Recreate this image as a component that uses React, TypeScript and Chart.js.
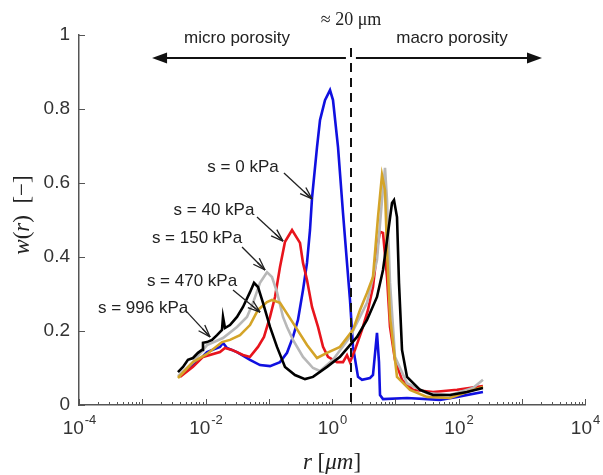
import React, { useEffect, useRef } from 'react';
import { Chart, registerables } from 'chart.js';
Chart.register(...registerables);

// ---- data: pore radius r [um] and w(r) [-] ----
const blueR = [0.00474, 0.00734, 0.01057, 0.01695, 0.01891, 0.02188, 0.03148, 0.05053, 0.07271, 0.1047, 0.1506, 0.1944, 0.2417, 0.2897, 0.348, 0.4026, 0.449, 0.483, 0.5795, 0.6464, 0.7751, 0.93, 1.037, 1.245, 1.492, 1.726, 1.925, 2.148, 2.577, 2.98, 3.988, 4.446, 5.144, 5.533, 5.741, 6.404, 15.35, 51.03, 94.73, 243.6];
const blueW = [0.089, 0.116, 0.143, 0.157, 0.168, 0.154, 0.143, 0.122, 0.108, 0.105, 0.116, 0.141, 0.184, 0.230, 0.311, 0.384, 0.473, 0.559, 0.697, 0.770, 0.824, 0.851, 0.824, 0.697, 0.519, 0.384, 0.284, 0.157, 0.076, 0.068, 0.073, 0.081, 0.195, 0.116, 0.027, 0.016, 0.019, 0.014, 0.022, 0.035];

const redR = [0.00395, 0.00634, 0.00913, 0.01695, 0.02033, 0.02624, 0.03917, 0.05053, 0.06761, 0.0841, 0.1047, 0.1256, 0.1506, 0.1807, 0.2335, 0.312, 0.348, 0.4026, 0.483, 0.601, 0.7215, 0.865, 1.2, 1.492, 1.726, 1.925, 2.31, 2.98, 3.708, 4.446, 5.335, 5.741, 6.404, 7.407, 8.262, 9.911, 12.79, 19.1, 39.53, 94.73, 243.6];
const redW = [0.076, 0.103, 0.130, 0.143, 0.154, 0.149, 0.135, 0.130, 0.157, 0.184, 0.238, 0.292, 0.373, 0.441, 0.473, 0.438, 0.384, 0.338, 0.265, 0.211, 0.157, 0.130, 0.116, 0.116, 0.135, 0.116, 0.149, 0.203, 0.257, 0.319, 0.438, 0.468, 0.465, 0.346, 0.211, 0.122, 0.068, 0.041, 0.035, 0.041, 0.051];

const grayR = [0.00367, 0.00634, 0.01057, 0.01891, 0.03148, 0.04529, 0.05638, 0.07271, 0.0938, 0.1125, 0.135, 0.168, 0.1944, 0.2417, 0.348, 0.5008, 0.6464, 1.037, 1.925, 3.575, 5.144, 6.175, 6.887, 7.407, 8.262, 9.911, 15.35, 31.77, 73.46, 169.3, 243.6];
const grayW = [0.078, 0.116, 0.162, 0.181, 0.211, 0.238, 0.276, 0.330, 0.359, 0.346, 0.305, 0.238, 0.211, 0.176, 0.130, 0.100, 0.092, 0.122, 0.184, 0.276, 0.392, 0.554, 0.641, 0.554, 0.330, 0.130, 0.059, 0.032, 0.027, 0.046, 0.068];

const goldR = [0.00367, 0.00634, 0.01057, 0.01824, 0.02438, 0.0351, 0.05053, 0.06761, 0.0938, 0.1125, 0.1506, 0.2417, 0.4026, 0.5795, 0.8337, 1.338, 2.148, 2.772, 3.575, 4.446, 5.335, 6.175, 6.887, 7.407, 8.262, 10.66, 17.12, 31.77, 73.46, 136.2, 243.6];
const goldW = [0.073, 0.116, 0.138, 0.170, 0.176, 0.189, 0.216, 0.257, 0.278, 0.284, 0.276, 0.222, 0.162, 0.127, 0.141, 0.157, 0.203, 0.257, 0.303, 0.346, 0.508, 0.622, 0.581, 0.419, 0.238, 0.076, 0.041, 0.022, 0.019, 0.035, 0.049];

const blackR = [0.00367, 0.00441, 0.00528, 0.00634, 0.0076, 0.00881, 0.00913, 0.01057, 0.01268, 0.0152, 0.01824, 0.01891, 0.02033, 0.02438, 0.03148, 0.03917, 0.05053, 0.05848, 0.06761, 0.0811, 0.1047, 0.135, 0.1807, 0.26, 0.3743, 0.5008, 0.8337, 1.338, 1.925, 2.485, 3.575, 5.144, 6.404, 7.682, 8.886, 9.557, 10.66, 11.46, 12.79, 15.35, 24.62, 39.53, 73.46, 136.2, 243.6];
const blackW = [0.089, 0.103, 0.122, 0.127, 0.141, 0.149, 0.168, 0.170, 0.176, 0.189, 0.203, 0.238, 0.208, 0.216, 0.238, 0.265, 0.305, 0.330, 0.319, 0.276, 0.211, 0.157, 0.103, 0.081, 0.070, 0.076, 0.103, 0.130, 0.162, 0.184, 0.230, 0.292, 0.365, 0.465, 0.546, 0.554, 0.508, 0.330, 0.149, 0.076, 0.041, 0.027, 0.027, 0.035, 0.046];

const seriesLabels = ['s = 0 kPa', 's = 40 kPa', 's = 150 kPa', 's = 470 kPa', 's = 996 kPa'];
const seriesColors = ['#1010e0', '#e8141c', '#b8b8b8', '#d4a428', '#000000'];

// annotation label centres and arrows (data coordinates)
const labelR = [0.0392, 0.0136, 0.00734, 0.00612, 0.00103];
const labelW = [0.643, 0.527, 0.451, 0.335, 0.262];
const arrowFromR = [0.174, 0.0652, 0.0378, 0.0272, 0.00474];
const arrowFromW = [0.627, 0.508, 0.427, 0.311, 0.257];
const arrowToR = [0.483, 0.168, 0.0873, 0.0728, 0.0118];
const arrowToW = [0.557, 0.443, 0.365, 0.251, 0.184];

// micro / macro boundary
const boundaryR = 2;
const boundaryTopW = 0.965;
const regionArrowW = 0.938;
const microArrowR = [1.66, 0.00143];
const macroArrowR = [2.39, 2090];
const regionTexts = ['micro porosity', 'macro porosity'];
const regionTextR = [0.0315, 78.9];
const regionTextW = 0.992;
const boundaryText = '\u2248 20 \u03bcm';
const boundaryTextW = 1.04;

const yTicks = [0, 0.2, 0.4, 0.6, 0.8, 1];
const yTickLabels = ['0', '0.2', '0.4', '0.6', '0.8', '1'];
const xTickExponents = ['-4', '-2', '0', '2', '4'];
const xTickValues = [1e-4, 1e-2, 1, 1e2, 1e4];

const SANS = '"Liberation Sans", Arial, sans-serif';
const SERIF = '"Liberation Serif", "Times New Roman", serif';

type Seg = { t: string; i: boolean };
function drawRich(ctx: CanvasRenderingContext2D, segs: Seg[], x: number, y: number, size: number) {
  let total = 0;
  const widths: number[] = [];
  for (const s of segs) {
    ctx.font = `${s.i ? 'italic ' : ''}${size}px ${SERIF}`;
    const w = ctx.measureText(s.t).width;
    widths.push(w);
    total += w;
  }
  let cx = x - total / 2;
  ctx.textAlign = 'left';
  segs.forEach((s, k) => {
    ctx.font = `${s.i ? 'italic ' : ''}${size}px ${SERIF}`;
    ctx.fillText(s.t, cx, y);
    cx += widths[k];
  });
}

function line(ctx: CanvasRenderingContext2D, x1: number, y1: number, x2: number, y2: number) {
  ctx.beginPath();
  ctx.moveTo(x1, y1);
  ctx.lineTo(x2, y2);
  ctx.stroke();
}

function filledHead(ctx: CanvasRenderingContext2D, tipX: number, y: number, dir: number) {
  ctx.beginPath();
  ctx.moveTo(tipX, y);
  ctx.lineTo(tipX - dir * 15, y - 5.5);
  ctx.lineTo(tipX - dir * 15, y + 5.5);
  ctx.closePath();
  ctx.fill();
}

const overlay = {
  id: 'overlay',
  afterDraw(chart: any) {
    const ctx: CanvasRenderingContext2D = chart.ctx;
    const xs = chart.scales.x;
    const ys = chart.scales.y;
    const { left, right, top, bottom } = chart.chartArea;
    const X = (r: number) => xs.getPixelForValue(r);
    const Y = (w: number) => ys.getPixelForValue(w);
    ctx.save();

    // inward tick marks
    ctx.strokeStyle = '#555';
    ctx.lineWidth = 1;
    for (const v of yTicks) {
      const y = Math.round(Y(v)) + 0.5;
      line(ctx, left, y, left + 6, y);
    }
    for (let e = -4; e <= 4; e++) {
      for (let m = 1; m <= 9; m++) {
        const v = m * Math.pow(10, e);
        if (v > 1e4 * 1.0001) break;
        const x = Math.round(X(v)) + 0.5;
        line(ctx, x, bottom, x, bottom - (m === 1 ? 6 : 3));
      }
    }

    // x tick labels with superscripts
    ctx.fillStyle = '#333';
    ctx.textBaseline = 'alphabetic';
    xTickValues.forEach((v, k) => {
      const x = X(v);
      ctx.font = `19px ${SANS}`;
      const wb = ctx.measureText('10').width;
      ctx.font = `13px ${SANS}`;
      const we = ctx.measureText(xTickExponents[k]).width;
      const sx = x - (wb + we) / 2;
      ctx.font = `19px ${SANS}`;
      ctx.textAlign = 'left';
      ctx.fillText('10', sx, bottom + 29);
      ctx.font = `13px ${SANS}`;
      ctx.fillText(xTickExponents[k], sx + wb + 1, bottom + 19);
    });

    // axis titles
    ctx.fillStyle = '#222';
    ctx.textBaseline = 'middle';
    drawRich(ctx, [
      { t: 'r', i: true }, { t: ' [', i: false }, { t: '\u03bcm', i: true }, { t: ']', i: false },
    ], (left + right) / 2, bottom + 58, 23);
    ctx.save();
    ctx.translate(left - 56, (top + bottom) / 2 - 5);
    ctx.rotate(-Math.PI / 2);
    drawRich(ctx, [
      { t: 'w', i: true }, { t: '(', i: false }, { t: 'r', i: true }, { t: ')  [\u2212]', i: false },
    ], 0, 0, 23);
    ctx.restore();

    // boundary dashed line
    ctx.strokeStyle = '#111';
    ctx.lineWidth = 2;
    ctx.setLineDash([9, 6]);
    const bx = Math.round(X(boundaryR));
    line(ctx, bx, Y(boundaryTopW), bx, bottom);
    ctx.setLineDash([]);

    // region arrows
    ctx.fillStyle = '#111';
    const ay = Y(regionArrowW);
    ctx.lineWidth = 2;
    line(ctx, X(microArrowR[0]), ay, X(microArrowR[1]) + 10, ay);
    filledHead(ctx, X(microArrowR[1]), ay, -1);
    line(ctx, X(macroArrowR[0]), ay, X(macroArrowR[1]) - 10, ay);
    filledHead(ctx, X(macroArrowR[1]), ay, 1);

    ctx.fillStyle = '#222';
    ctx.textAlign = 'center';
    ctx.textBaseline = 'middle';
    ctx.font = `17px ${SANS}`;
    regionTexts.forEach((t, k) => ctx.fillText(t, X(regionTextR[k]), Y(regionTextW)));
    ctx.font = `18px ${SERIF}`;
    ctx.fillText(boundaryText, X(boundaryR), Y(boundaryTextW));

    // series annotations
    ctx.font = `17px ${SANS}`;
    ctx.strokeStyle = '#222';
    ctx.lineWidth = 1.3;
    seriesLabels.forEach((t, k) => {
      ctx.fillText(t, X(labelR[k]), Y(labelW[k]));
      const x1 = X(arrowFromR[k]), y1 = Y(arrowFromW[k]);
      const x2 = X(arrowToR[k]), y2 = Y(arrowToW[k]);
      line(ctx, x1, y1, x2, y2);
      const ang = Math.atan2(y2 - y1, x2 - x1);
      for (const d of [-0.33, 0.33]) {
        line(ctx, x2, y2, x2 - 13 * Math.cos(ang + d), y2 - 13 * Math.sin(ang + d));
      }
      line(ctx, x2, y2, x2 - 11 * Math.cos(ang), y2 - 11 * Math.sin(ang));
    });

    ctx.restore();
  },
};

function pts(rs: number[], ws: number[]) {
  return rs.map((r, i) => ({ x: r, y: ws[i] }));
}

export default function App() {
  const ref = useRef<HTMLCanvasElement | null>(null);
  useEffect(() => {
    if (!ref.current) return;
    const series = [
      { r: blackR, w: blackW, c: seriesColors[4], l: seriesLabels[4] },
      { r: goldR, w: goldW, c: seriesColors[3], l: seriesLabels[3] },
      { r: grayR, w: grayW, c: seriesColors[2], l: seriesLabels[2] },
      { r: redR, w: redW, c: seriesColors[1], l: seriesLabels[1] },
      { r: blueR, w: blueW, c: seriesColors[0], l: seriesLabels[0] },
    ];
    const chart = new Chart(ref.current, {
      type: 'line',
      data: {
        datasets: series.map((s) => ({
          label: s.l,
          data: pts(s.r, s.w),
          borderColor: s.c,
          backgroundColor: s.c,
          borderWidth: 2.6,
          pointRadius: 0,
          tension: 0,
          fill: false,
        })),
      },
      options: {
        animation: false,
        responsive: true,
        maintainAspectRatio: false,
        layout: { padding: { top: 35, right: 18, left: 0, bottom: 0 } },
        plugins: { legend: { display: false }, tooltip: { enabled: false } },
        scales: {
          x: {
            type: 'logarithmic',
            min: 1e-4,
            max: 1e4,
            grid: { display: false, drawTicks: false },
            border: { display: true, color: '#555', width: 1.5 },
            ticks: { display: false },
            afterFit: (s: any) => { s.height = 70; },
          },
          y: {
            min: 0,
            max: 1,
            grid: { display: false, drawTicks: false },
            border: { display: true, color: '#555', width: 1.5 },
            ticks: {
              stepSize: 0.2,
              padding: 9,
              color: '#333',
              font: { family: SANS, size: 19 },
              callback: (v: number) => {
                const k = yTicks.findIndex((t) => Math.abs(t - v) < 1e-9);
                return k >= 0 ? yTickLabels[k] : '';
              },
            },
            afterFit: (s: any) => { s.width = 79; },
          },
        },
      } as any,
      plugins: [overlay],
    });
    return () => chart.destroy();
  }, []);
  return (
    <div style={{ position: 'absolute', left: 0, top: 0, width: 603, height: 475, overflow: 'hidden' }}>
      <canvas ref={ref} />
    </div>
  );
}
